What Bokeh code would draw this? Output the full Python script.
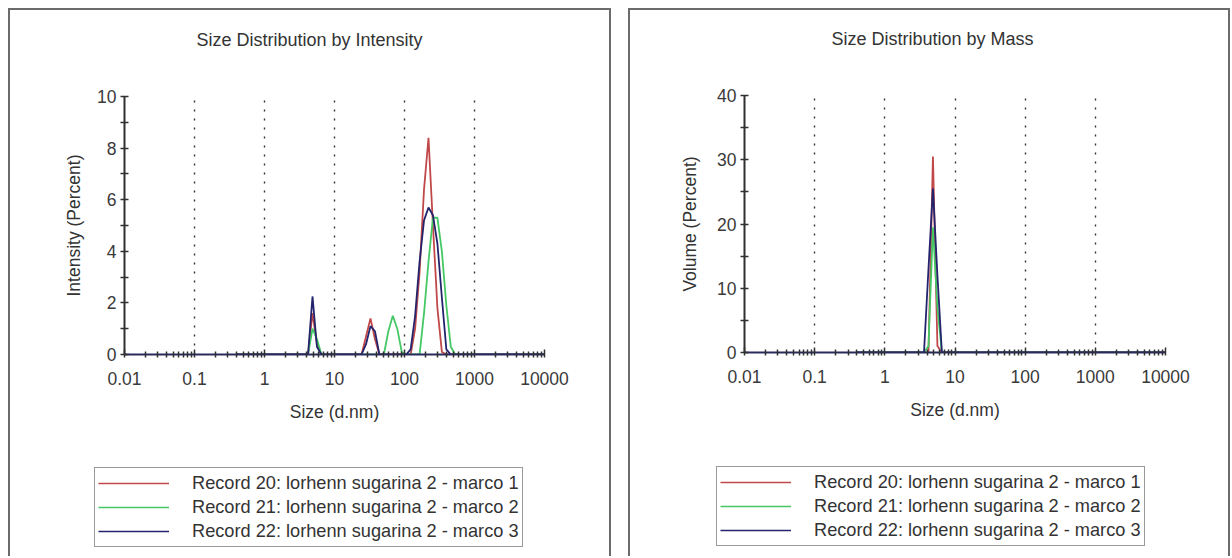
from bokeh.plotting import figure
from bokeh.layouts import row, column
from bokeh.models import (FixedTicker, CustomJSTickFormatter, Legend, LegendItem,
                          Range1d, Title)
from bokeh.embed import file_html
from bokeh.resources import INLINE

FONT = "Liberation Sans"

# ---------------- data ----------------
record_labels = [
    "Record 20: lorhenn sugarina 2 - marco 1",
    "Record 21: lorhenn sugarina 2 - marco 2",
    "Record 22: lorhenn sugarina 2 - marco 3",
]
record_colors = ["#c04848", "#44c864", "#24246e"]

x_major = [0.01, 0.1, 1, 10, 100, 1000, 10000]

# Size distribution by intensity (size in d.nm, intensity in %)
int_r20_size = [0.4, 4.187, 4.849, 5.615, 6.503, 24.36, 28.21, 32.67, 37.84, 43.82,
                122.4, 141.8, 164.2, 190.1, 220.2, 255.0, 295.3, 342.0, 396.1, 10000]
int_r20_val = [0, 0, 1.6, 0.4, 0, 0, 0.7, 1.4, 0.6, 0,
               0, 1.0, 3.2, 6.4, 8.4, 5.0, 1.8, 0.1, 0, 0]

int_r21_size = [0.4, 4.187, 4.849, 5.615, 6.503, 50.75, 58.77, 68.06, 78.82, 91.28, 105.7,
                164.2, 190.1, 220.2, 255.0, 295.3, 342.0, 396.1, 458.7, 531.2, 10000]
int_r21_val = [0, 0, 1.0, 0.6, 0, 0, 0.9, 1.5, 1.0, 0.1, 0,
               0, 1.6, 3.6, 5.3, 5.3, 4.0, 1.9, 0.3, 0, 0]

int_r22_size = [0.4, 4.187, 4.849, 5.615, 6.503, 24.36, 28.21, 32.67, 37.84, 43.82,
                105.7, 122.4, 141.8, 164.2, 190.1, 220.2, 255.0, 295.3, 342.0, 396.1, 458.7, 10000]
int_r22_val = [0, 0, 2.25, 0.3, 0, 0, 0.4, 1.1, 0.9, 0,
               0, 0.2, 1.5, 3.6, 5.2, 5.7, 5.4, 4.3, 2.2, 0.2, 0, 0]

# Size distribution by mass (size in d.nm, volume in %)
mass_r20_size = [0.4, 4.187, 4.849, 5.615, 6.503, 10000]
mass_r20_val = [0, 0, 30.5, 1.0, 0, 0]

mass_r21_size = [0.4, 3.615, 4.187, 4.849, 5.615, 6.503, 10000]
mass_r21_val = [0, 0, 1.0, 19.5, 7.0, 0, 0]

mass_r22_size = [0.4, 3.615, 4.187, 4.849, 5.615, 6.503, 10000]
mass_r22_val = [0, 0, 13.0, 25.5, 12.0, 0, 0]

int_y_major = [0, 2, 4, 6, 8, 10]
int_y_minor = [1, 3, 5, 7, 9]
mass_y_major = [0, 10, 20, 30, 40]
mass_y_minor = [5, 15, 25, 35]


def no_frame_align(fig):
    try:
        fig.frame_align = False
    except Exception:
        pass


def make_panel(title, ylabel, ymax, y_major, y_minor, series, width,
               mb_left, mb_right, mb_top, mb_bottom, title_offset, ylabel_standoff,
               legend_loc):
    p = figure(width=width, height=430, x_axis_type="log",
               x_range=Range1d(0.01, 10000), y_range=Range1d(0, ymax),
               output_backend="svg", toolbar_location=None, tools="",
               min_border_left=mb_left, min_border_right=mb_right,
               min_border_top=mb_top, min_border_bottom=mb_bottom)
    no_frame_align(p)
    p.outline_line_color = None
    p.background_fill_color = "white"
    p.border_fill_color = "white"

    # spacer panel next to the frame, then the real title further out
    p.add_layout(Title(text=" ", text_font_size="1px", standoff=44), "above")
    p.add_layout(Title(text=title, align="left", offset=title_offset, standoff=0,
                       text_font=FONT, text_font_size="18px", text_font_style="normal",
                       text_color="#333333"), "above")

    x_minor = [m * d for d in x_major[:-1] for m in range(2, 10)]
    p.xaxis.ticker = FixedTicker(ticks=x_major, minor_ticks=x_minor)
    p.xaxis.formatter = CustomJSTickFormatter(
        code="return tick < 1 ? String(Number(tick.toPrecision(2))) : String(Math.round(tick));")
    p.yaxis.ticker = FixedTicker(ticks=y_major, minor_ticks=y_minor)

    p.xaxis.axis_label = "Size (d.nm)"
    p.yaxis.axis_label = ylabel
    for ax in (p.xaxis, p.yaxis):
        ax.axis_label_text_font = FONT
        ax.axis_label_text_font_size = "17.5px"
        ax.axis_label_text_font_style = "normal"
        ax.axis_label_text_color = "#333333"
        ax.major_label_text_font = FONT
        ax.major_label_text_font_size = "17.5px"
        ax.major_label_text_color = "#3a3a3a"
        ax.major_tick_line_color = "#303030"
        ax.minor_tick_line_color = "#303030"
        ax.major_tick_line_width = 1.5
        ax.minor_tick_line_width = 1.5
    p.xaxis.axis_line_color = "#2a2a5e"
    p.xaxis.axis_line_width = 2
    p.yaxis.axis_line_color = "#303030"
    p.yaxis.axis_line_width = 2
    p.xaxis.major_tick_in = 5
    p.xaxis.major_tick_out = 3
    p.xaxis.minor_tick_in = 3
    p.xaxis.minor_tick_out = 3
    p.yaxis.major_tick_in = 4
    p.yaxis.major_tick_out = 4
    p.yaxis.minor_tick_in = 4
    p.yaxis.minor_tick_out = 4
    p.xaxis.major_label_standoff = 14
    p.xaxis.axis_label_standoff = 14
    p.yaxis.major_label_standoff = 4
    p.yaxis.axis_label_standoff = ylabel_standoff

    p.xgrid.ticker = FixedTicker(ticks=x_major[1:])
    p.xgrid.grid_line_color = "#333333"
    p.xgrid.grid_line_dash = "2 7"
    p.xgrid.grid_line_width = 1.4
    p.ygrid.visible = False

    for (xs, ys), color in zip(series, record_colors):
        p.line(xs, ys, line_color=color, line_width=1.8)

    # legend strip below the chart (its own small canvas); the same series are
    # drawn there outside the visible range, only to feed the legend glyphs
    lf = figure(width=width, height=116, x_range=Range1d(0, 1), y_range=Range1d(-2, -1),
                output_backend="svg", toolbar_location=None, tools="",
                x_axis_location=None, y_axis_location=None,
                min_border=0, min_border_left=0, min_border_right=0,
                min_border_top=0, min_border_bottom=0)
    no_frame_align(lf)
    lf.outline_line_color = None
    lf.grid.visible = False
    lf.background_fill_color = "white"
    lf.border_fill_color = "white"
    items = []
    for (xs, ys), color, label in zip(series, record_colors, record_labels):
        r = lf.line(xs, ys, line_color=color, line_width=1.6)
        items.append(LegendItem(label=label, renderers=[r]))
    legend = Legend(items=items, location=legend_loc,
                    glyph_width=71, glyph_height=24, label_height=24,
                    label_standoff=23, padding=3, spacing=0, margin=0,
                    border_line_color="#333333", border_line_width=1.5,
                    background_fill_color="white", background_fill_alpha=1,
                    label_text_font=FONT, label_text_font_size="18.2px",
                    label_text_color="#333333")
    lf.add_layout(legend)

    border = "2px solid #6b6b6b"
    col = column(p, lf, styles={"border-top": border, "border-left": border,
                                "border-right": border})
    return col


c1 = make_panel("Size Distribution by Intensity", "Intensity (Percent)", 10,
                int_y_major, int_y_minor,
                [(int_r20_size, int_r20_val), (int_r21_size, int_r21_val),
                 (int_r22_size, int_r22_val)],
                width=599, mb_left=114, mb_right=65, mb_top=86, mb_bottom=86,
                title_offset=72, ylabel_standoff=10, legend_loc=(84, 9))

c2 = make_panel("Size Distribution by Mass", "Volume (Percent)", 40,
                mass_y_major, mass_y_minor,
                [(mass_r20_size, mass_r20_val), (mass_r21_size, mass_r21_val),
                 (mass_r22_size, mass_r22_val)],
                width=598, mb_left=114, mb_right=63, mb_top=85, mb_bottom=88,
                title_offset=87, ylabel_standoff=14, legend_loc=(86, 10))

layout = row(c1, c2, spacing=17, margin=(8, 0, 0, 8))

open("out.html", "w").write(file_html(layout, INLINE))
